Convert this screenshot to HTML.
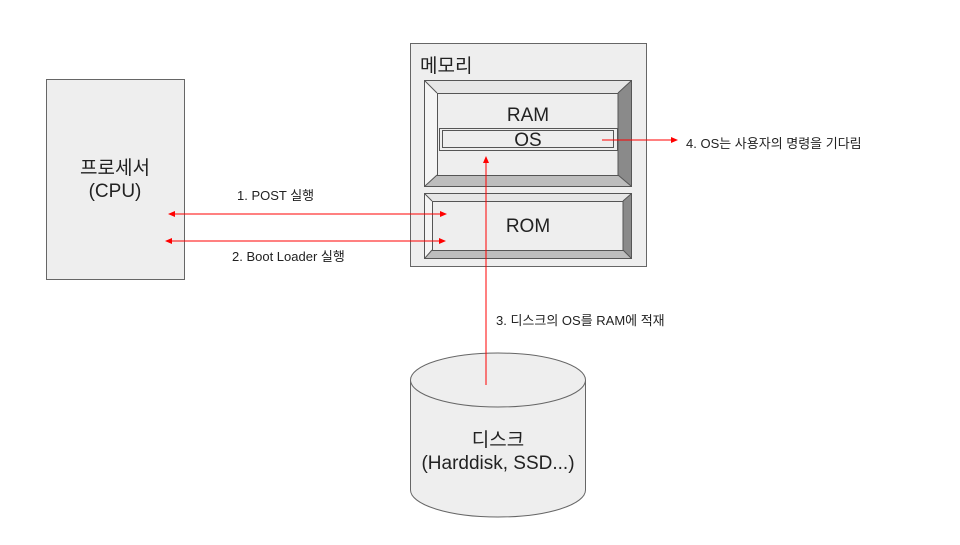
<!DOCTYPE html>
<html><head><meta charset="utf-8"><style>
html,body{margin:0;padding:0;background:#fff}
svg text{font-family:"Liberation Sans","Noto Sans CJK KR",sans-serif}
</style></head><body>
<svg width="960" height="540" viewBox="0 0 960 540" xmlns="http://www.w3.org/2000/svg">
<defs>
<marker id="ah" markerWidth="8" markerHeight="8" refX="6" refY="3" orient="auto-start-reverse" markerUnits="userSpaceOnUse"><path d="M0,0 L7,3 L0,6 Z" fill="#f00"/></marker>
</defs>
<!-- CPU -->
<rect x="46.5" y="79.5" width="138" height="200" fill="#eee" stroke="#666"/>
<text x="115" y="174" font-size="19" text-anchor="middle" fill="#222">프로세서</text>
<text x="115" y="197" font-size="19" text-anchor="middle" fill="#222">(CPU)</text>
<!-- memory -->
<rect x="410.5" y="43.5" width="236" height="223" fill="#eee" stroke="#666"/>
<text x="420" y="72" font-size="19" fill="#222">메모리</text>
<!-- RAM bevel -->
<rect x="424.5" y="80.5" width="207" height="106" fill="#eee" stroke="#555"/>
<polygon points="425,81 437,93 437,175 425,186" fill="#f5f5f5"/>
<polygon points="425,81 631,81 618,93 437,93" fill="#e6e6e6"/>
<polygon points="631,81 631,186 618,175 618,93" fill="#8a8a8a"/>
<polygon points="425,186 631,186 618,175 437,175" fill="#bdbdbd"/>
<rect x="437.5" y="93.5" width="180.5" height="82" fill="#eee" stroke="#555"/>
<path d="M425,81 L437,93 M631,81 L618,93 M425,186 L437,175 M631,186 L618,175" stroke="#555"/>
<text x="528" y="121" font-size="19" text-anchor="middle" fill="#222">RAM</text>
<rect x="439.5" y="128.5" width="178" height="22" fill="#eee" stroke="#555"/>
<rect x="442.5" y="130.5" width="171" height="17" fill="#eee" stroke="#555"/>
<text x="528" y="146" font-size="19" text-anchor="middle" fill="#222">OS</text>
<!-- ROM bevel -->
<rect x="424.5" y="193.5" width="207" height="65" fill="#eee" stroke="#555"/>
<polygon points="425,194 432,201 432,250 425,258" fill="#f5f5f5"/>
<polygon points="425,194 631,194 623,201 432,201" fill="#e6e6e6"/>
<polygon points="631,194 631,258 623,250 623,201" fill="#8a8a8a"/>
<polygon points="425,258 631,258 623,250 432,250" fill="#bdbdbd"/>
<rect x="432.5" y="201.5" width="190.5" height="49" fill="#eee" stroke="#555"/>
<path d="M425,194 L432,201 M631,194 L623,201 M425,258 L432,250 M631,258 L623,250" stroke="#555"/>
<text x="528" y="232" font-size="19" text-anchor="middle" fill="#222">ROM</text>
<!-- disk -->
<path d="M410.5,380 L410.5,490 A87.5,27 0 0 0 585.5,490 L585.5,380" fill="#eee" stroke="#666"/>
<ellipse cx="498" cy="380" rx="87.5" ry="27" fill="#eee" stroke="#666"/>
<text x="498" y="446" font-size="19" text-anchor="middle" fill="#222">디스크</text>
<text x="498" y="469" font-size="19" text-anchor="middle" fill="#222">(Harddisk, SSD...)</text>
<!-- arrows -->
<line x1="169" y1="214" x2="446" y2="214" stroke="#f00" marker-start="url(#ah)" marker-end="url(#ah)"/>
<line x1="166" y1="241" x2="445" y2="241" stroke="#f00" marker-start="url(#ah)" marker-end="url(#ah)"/>
<line x1="486" y1="385" x2="486" y2="157" stroke="#f00" marker-end="url(#ah)"/>
<line x1="602" y1="140" x2="677" y2="140" stroke="#f00" marker-end="url(#ah)"/>
<text x="237" y="200" font-size="13" fill="#222">1. POST 실행</text>
<text x="232" y="261" font-size="13" fill="#222">2. Boot Loader 실행</text>
<text x="496" y="325" font-size="13" fill="#222">3. 디스크의 OS를 RAM에 적재</text>
<text x="686" y="148" font-size="13" fill="#222">4. OS는 사용자의 명령을 기다림</text>
</svg>
</body></html>
